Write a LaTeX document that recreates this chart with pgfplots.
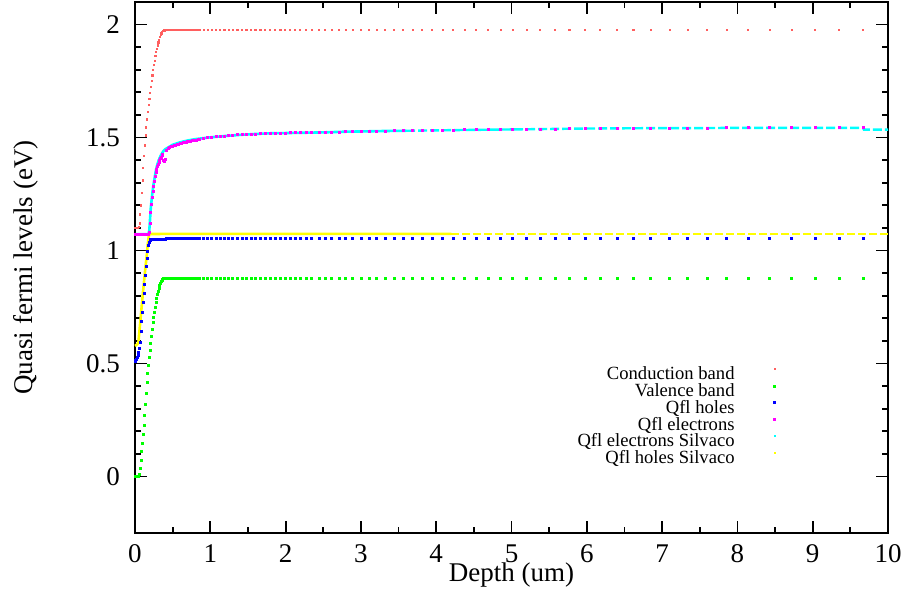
\documentclass[border=0pt]{standalone}
\usepackage{pgfplots}
\pgfplotsset{compat=1.18}
\usepackage{pgfplotstable}
\usepackage{fontspec}
\setmainfont{Liberation Serif}

\pgfplotstableread{
x cb vb qh qe
0.00 1.100 0.000 0.510 1.070
0.01 1.100 0.000 0.514 1.070
0.02 1.100 0.000 0.520 1.070
0.03 1.100 0.001 0.528 1.070
0.04 1.101 0.001 0.538 1.070
0.05 1.103 0.002 0.550 1.070
0.06 1.120 0.008 0.568 1.070
0.07 1.160 0.035 0.595 1.070
0.08 1.200 0.070 0.640 1.070
0.09 1.255 0.110 0.685 1.070
0.10 1.310 0.145 0.728 1.070
0.11 1.365 0.185 0.770 1.070
0.12 1.420 0.225 0.810 1.070
0.13 1.465 0.270 0.850 1.070
0.14 1.510 0.320 0.890 1.070
0.15 1.545 0.370 0.930 1.070
0.16 1.580 0.415 0.965 1.070
0.17 1.615 0.455 0.998 1.070
0.18 1.645 0.490 1.022 1.071
0.19 1.672 0.525 1.038 1.080
0.20 1.698 0.560 1.046 1.120
0.21 1.724 0.590 1.049 1.170
0.22 1.750 0.620 1.050 1.205
0.23 1.775 0.650 1.050 1.235
0.24 1.798 0.680 1.050 1.262
0.25 1.820 0.705 1.050 1.285
0.26 1.840 0.728 1.050 1.306
0.27 1.860 0.750 1.050 1.326
0.28 1.878 0.770 1.050 1.345
0.29 1.894 0.788 1.050 1.360
0.30 1.908 0.805 1.050 1.372
0.31 1.921 0.820 1.050 1.382
0.32 1.933 0.834 1.050 1.392
0.33 1.944 0.846 1.050 1.400
0.34 1.953 0.856 1.050 1.407
0.35 1.961 0.864 1.050 1.413
0.36 1.967 0.870 1.050 1.419
0.37 1.971 0.874 1.050 1.424
0.38 1.973 0.876 1.050 1.400
0.39 1.974 0.877 1.050 1.395
0.40 1.975 0.877 1.050 1.405
0.42 1.975 0.877 1.053 1.444
0.44 1.975 0.877 1.053 1.450
0.46 1.975 0.877 1.053 1.455
0.48 1.975 0.877 1.053 1.459
0.50 1.975 0.877 1.053 1.462
0.52 1.975 0.877 1.053 1.464
0.54 1.975 0.877 1.053 1.467
0.56 1.975 0.877 1.053 1.469
0.58 1.975 0.877 1.053 1.471
0.60 1.975 0.877 1.053 1.473
0.62 1.975 0.877 1.053 1.475
0.64 1.975 0.877 1.053 1.477
0.66 1.975 0.877 1.053 1.478
0.68 1.975 0.877 1.053 1.480
0.70 1.975 0.877 1.053 1.481
0.72 1.975 0.877 1.053 1.483
0.74 1.975 0.877 1.053 1.485
0.76 1.975 0.877 1.053 1.486
0.78 1.975 0.877 1.053 1.487
0.80 1.975 0.877 1.053 1.488
0.82 1.975 0.877 1.053 1.489
0.84 1.975 0.877 1.053 1.491
0.86 1.975 0.877 1.053 1.493
0.913 1.975 0.877 1.053 1.498
0.967 1.975 0.877 1.053 1.500
1.020 1.975 0.877 1.053 1.502
1.075 1.975 0.877 1.053 1.504
1.130 1.975 0.877 1.053 1.505
1.186 1.975 0.877 1.053 1.507
1.243 1.975 0.877 1.053 1.509
1.300 1.975 0.877 1.053 1.510
1.360 1.975 0.877 1.053 1.512
1.420 1.975 0.877 1.053 1.513
1.480 1.975 0.877 1.053 1.514
1.540 1.975 0.877 1.053 1.515
1.600 1.975 0.877 1.053 1.516
1.665 1.975 0.877 1.053 1.517
1.730 1.975 0.877 1.053 1.518
1.795 1.975 0.877 1.053 1.519
1.860 1.975 0.877 1.053 1.519
1.930 1.975 0.877 1.053 1.520
1.995 1.975 0.877 1.053 1.520
2.060 1.975 0.877 1.053 1.521
2.125 1.975 0.877 1.053 1.521
2.191 1.975 0.877 1.053 1.521
2.271 1.975 0.877 1.053 1.522
2.347 1.975 0.877 1.053 1.522
2.444 1.975 0.877 1.053 1.523
2.523 1.975 0.877 1.053 1.524
2.612 1.975 0.877 1.053 1.524
2.709 1.975 0.877 1.053 1.525
2.798 1.975 0.877 1.053 1.526
2.891 1.975 0.877 1.053 1.526
3.001 1.975 0.877 1.053 1.527
3.108 1.975 0.877 1.053 1.528
3.209 1.975 0.877 1.053 1.528
3.320 1.975 0.877 1.053 1.529
3.440 1.975 0.877 1.053 1.530
3.559 1.975 0.877 1.053 1.530
3.688 1.975 0.877 1.053 1.531
3.811 1.975 0.877 1.053 1.531
3.944 1.975 0.877 1.053 1.532
4.086 1.975 0.877 1.053 1.533
4.227 1.975 0.877 1.053 1.533
4.378 1.975 0.877 1.053 1.534
4.528 1.975 0.877 1.053 1.534
4.688 1.975 0.877 1.053 1.535
4.856 1.975 0.877 1.053 1.536
5.016 1.975 0.877 1.053 1.536
5.201 1.975 0.877 1.053 1.537
5.378 1.975 0.877 1.053 1.538
5.578 1.975 0.877 1.053 1.538
5.768 1.975 0.877 1.053 1.539
5.976 1.975 0.877 1.053 1.540
6.175 1.975 0.877 1.053 1.540
6.400 1.975 0.877 1.053 1.541
6.620 1.975 0.877 1.053 1.541
6.850 1.975 0.877 1.053 1.541
7.100 1.975 0.877 1.053 1.542
7.340 1.975 0.877 1.053 1.542
7.600 1.975 0.877 1.053 1.542
7.860 1.975 0.877 1.053 1.543
8.140 1.975 0.877 1.053 1.543
8.430 1.975 0.877 1.053 1.543
8.720 1.975 0.877 1.053 1.543
9.030 1.975 0.877 1.053 1.543
9.350 1.975 0.877 1.053 1.543
9.670 1.975 0.877 1.053 1.543
}\bands

\pgfplotstableread{
x y
0.00 1.072
0.18 1.073
0.19 1.090
0.20 1.140
0.21 1.190
0.22 1.222
0.23 1.252
0.24 1.278
0.25 1.300
0.26 1.320
0.27 1.340
0.28 1.358
0.29 1.372
0.30 1.384
0.32 1.404
0.34 1.419
0.36 1.431
0.38 1.441
0.40 1.448
0.42 1.452
0.50 1.468
0.60 1.479
0.70 1.487
0.80 1.493
0.90 1.497
1.00 1.501
1.20 1.507
1.40 1.512
1.60 1.516
1.80 1.519
2.00 1.520
2.20 1.521
2.50 1.523
2.80 1.526
3.00 1.527
3.30 1.529
3.60 1.530
4.00 1.532
4.50 1.534
5.00 1.536
5.50 1.538
6.00 1.540
6.50 1.541
7.00 1.542
7.50 1.542
8.00 1.543
8.50 1.543
9.00 1.543
9.67 1.543
9.68 1.535
10.00 1.535
}\cyanS

\pgfplotstableread{
x y
0.000 0.578
0.030 0.585
0.045 0.593
0.080 0.720
0.110 0.830
0.140 0.930
0.155 0.975
0.170 1.030
0.185 1.068
0.200 1.073
0.500 1.074
4.200 1.074
10.00 1.074
}\yellowS

\definecolor{cbred}{RGB}{255,95,95}
\definecolor{qgreen}{RGB}{0,255,0}
\definecolor{qblue}{RGB}{0,0,255}
\definecolor{qmagenta}{RGB}{255,0,255}
\definecolor{qcyan}{RGB}{0,255,255}
\definecolor{qyellow}{RGB}{255,255,0}

\pgfplotsset{
  dotleg/.style={legend image code/.code={\path[draw=none,fill=none] (0pt,3.2pt) -- (40pt,3.2pt); \draw[##1,/tikz/only marks] plot coordinates {(20pt,3.2pt)};}},
  cyanleg/.style={legend image code/.code={\path[draw=none,fill=none] (0pt,3.2pt) -- (40pt,3.2pt); \fill[qcyan,draw=none] (19.5pt,2.7pt) rectangle (20.5pt,3.7pt);}},
  yellowleg/.style={legend image code/.code={\path[draw=none,fill=none] (0pt,3.2pt) -- (40pt,3.2pt); \fill[qyellow,draw=none] (19.5pt,2.7pt) rectangle (20.5pt,3.7pt);}},
}

\begin{document}
\begin{tikzpicture}
\useasboundingbox (-67.5pt,-30pt) rectangle (387pt,266.5pt);
\begin{axis}[
  scale only axis, width=376.5pt, height=265.5pt,
  xmin=0, xmax=10, ymin=-0.25, ymax=2.1,
  xtick={0,1,...,10}, ytick={0,0.5,1,1.5,2},
  minor x tick num=1, minor y tick num=4,
  tick pos=both, tick align=inside,
  major tick length=6pt, minor tick length=3pt,
  axis line style={line width=0.9pt},
  tick style={black, line width=0.9pt},
  tick label style={font=\fontsize{13.5}{16}\selectfont},
  /pgf/number format/assume math mode=true,
  xticklabel style={inner ysep=0pt, yshift=-5.5pt},
  yticklabel style={xshift=-4pt},
  xlabel={Depth (um)}, ylabel={Quasi fermi levels (eV)},
  label style={font=\fontsize{13.5}{16}\selectfont},
  xlabel style={at={(axis description cs:0.5,-0.092)}, anchor=base, inner sep=0pt},
  ylabel style={at={(axis description cs:-0.136,0.5)}, anchor=base},
  clip=false,
  legend cell align=right, legend plot pos=right,
  legend style={at={(axis description cs:0.903,0.313)}, anchor=north east,
    draw=none, fill=none, inner sep=0pt, row sep=0pt, column sep=0pt,
    nodes={inner sep=0pt, text height=6.3pt, text depth=2.1pt, font=\fontsize{9.3}{11}\selectfont}},
]
\addplot[only marks, mark=square*, mark size=0.3pt, color=cbred, mark options={draw=none}, dotleg] table[x=x,y=cb]{\bands};
\addlegendentry{Conduction band}
\addplot[only marks, mark=square*, mark size=0.5pt, color=qgreen, mark options={draw=none}, dotleg] table[x=x,y=vb]{\bands};
\addlegendentry{Valence band}
\addplot[only marks, mark=square*, mark size=0.5pt, color=qblue, mark options={draw=none}, dotleg] table[x=x,y=qh]{\bands};
\addlegendentry{Qfl holes}
\addplot[only marks, mark=square*, mark size=0.5pt, color=qmagenta, mark options={draw=none}, dotleg] table[x=x,y=qe]{\bands};
\addlegendentry{Qfl electrons}
\addplot[color=qcyan, line width=1.3pt, restrict x to domain=0:3.6, cyanleg] table[x=x,y=y]{\cyanS};
\addlegendentry{Qfl electrons Silvaco}
\addplot[forget plot, color=qcyan, line width=1.2pt, dash pattern=on 4.5pt off 1.5pt, restrict x to domain=3.6:10] table[x=x,y=y]{\cyanS};
\addplot[color=qyellow, line width=1.3pt, restrict x to domain=0:4.2, yellowleg] table[x=x,y=y]{\yellowS};
\addlegendentry{Qfl holes Silvaco}
\addplot[forget plot, color=qyellow, line width=1.2pt, dash pattern=on 4pt off 1.5pt, restrict x to domain=4.2:10] table[x=x,y=y]{\yellowS};
\end{axis}
\end{tikzpicture}
\end{document}
